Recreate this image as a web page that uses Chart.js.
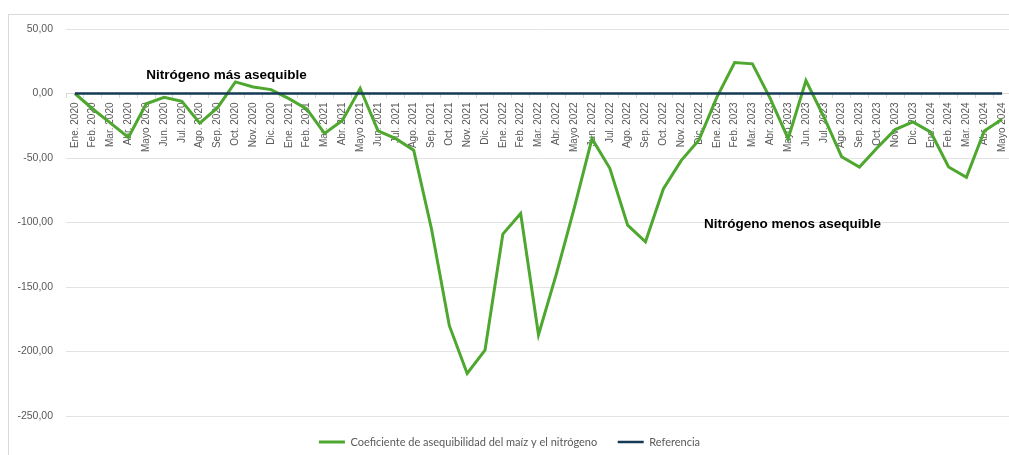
<!DOCTYPE html>
<html>
<head>
<meta charset="utf-8">
<script src="https://cdn.jsdelivr.net/npm/chart.js@4.4.1/dist/chart.umd.min.js"></script>
<style>
  html, body { margin: 0; padding: 0; background: #fff; overflow: hidden; }
  #frame { position: absolute; left: 8px; top: 14px; width: 1100px; height: 500px;
           border-left: 1px solid #d9d9d9; border-top: 1px solid #d9d9d9; }
  #wrap { position: absolute; left: 0; top: 0; width: 1020px; height: 455px; }
</style>
</head>
<body>
<div id="frame"></div>
<div id="wrap"><canvas id="chart"></canvas></div>
<script>
const months = ["Ene.", "Feb.", "Mar.", "Abr.", "Mayo", "Jun.", "Jul.", "Ago.", "Sep.", "Oct.", "Nov.", "Dic."];
const labels = [];
for (let y = 2020; y <= 2024; y++) {
  for (const m of months) labels.push(m + " " + y);
}
labels.length = 53; // Ene. 2020 .. Mayo 2024

const coeficiente = [
  0, -12, -23, -34, -8, -3, -6, -23, -11, 9, 5, 3,
  -4, -12, -31, -21, 4, -29, -35, -44, -105, -180, -217, -199,
  -109, -93, -187, -140, -89, -35, -58, -102, -115, -74, -52, -36,
  -3, 24, 23, -4, -35, 10, -18, -49, -57, -42, -28, -22,
  -30, -57, -65, -29, -20
];
const referencia = labels.map(() => 0);

const yTicks = [-250, -200, -150, -100, -50, 0, 50];

// text boxes: [category index, value]
const notes = ["Nitrógeno más asequible", "Nitrógeno menos asequible"];
const noteAt = [[8.5, 14], [40.24, -101.6]];

const notesPlugin = {
  id: "notes",
  afterDatasetsDraw(chart) {
    const ctx = chart.ctx;
    const x = chart.scales.x, y = chart.scales.y;
    ctx.save();
    ctx.font = "bold 13.5px 'Liberation Sans', Arial, sans-serif";
    ctx.fillStyle = "#000";
    ctx.textAlign = "center";
    ctx.textBaseline = "middle";
    notes.forEach((t, i) => {
      ctx.fillText(t, x.getPixelForValue(noteAt[i][0]), y.getPixelForValue(noteAt[i][1]));
    });
    ctx.restore();
  }
};

new Chart(document.getElementById("chart"), {
  type: "line",
  data: {
    labels,
    datasets: [
      { label: "Coeficiente de asequibilidad del maíz y el nitrógeno", data: coeficiente,
        borderColor: "#4ea72e", backgroundColor: "#4ea72e", borderWidth: 3,
        pointRadius: 0, tension: 0, order: 1 },
      { label: "Referencia", data: referencia,
        borderColor: "#153a55", backgroundColor: "#153a55", borderWidth: 2.5,
        pointRadius: 0, tension: 0, order: 0 }
    ]
  },
  options: {
    responsive: true,
    maintainAspectRatio: false,
    animation: false,
    layout: { padding: { left: 8, top: 29, right: 9, bottom: -2.5 } },
    plugins: {
      tooltip: { enabled: false },
      legend: {
        position: "bottom",
        labels: {
          usePointStyle: true,
          pointStyle: "line",
          pointStyleWidth: 26,
          padding: 20.5,
          color: "#595959",
          font: { family: "Lato, 'Open Sans', sans-serif", size: 11 },
          sort: (a, b) => a.datasetIndex - b.datasetIndex
        }
      }
    },
    scales: {
      x: {
        type: "category",
        position: { y: 0 },
        offset: true,
        afterFit: (s) => { s.height = 0; },
        grid: { display: true, drawOnChartArea: false, drawTicks: true, tickLength: 4, offset: true, color: "#d9d9d9" },
        border: { display: true, color: "#d9d9d9" },
        ticks: {
          autoSkip: false, maxRotation: 90, minRotation: 90, padding: 5,
          color: "#595959",
          font: { family: "'Liberation Sans', Arial, sans-serif", size: 10 }
        }
      },
      y: {
        min: -250,
        max: 50,
        afterFit: (s) => { s.width = 58; },
        afterBuildTicks: (s) => { s.ticks = yTicks.map(v => ({ value: v })); },
        grid: { color: "#e3e3e3", drawTicks: false },
        border: { display: false },
        ticks: {
          padding: 13,
          color: "#595959",
          font: { family: "'Liberation Sans', Arial, sans-serif", size: 10.5 },
          callback: (v) => v.toFixed(2).replace(".", ",")
        }
      }
    }
  },
  plugins: [notesPlugin]
});
</script>
</body>
</html>
